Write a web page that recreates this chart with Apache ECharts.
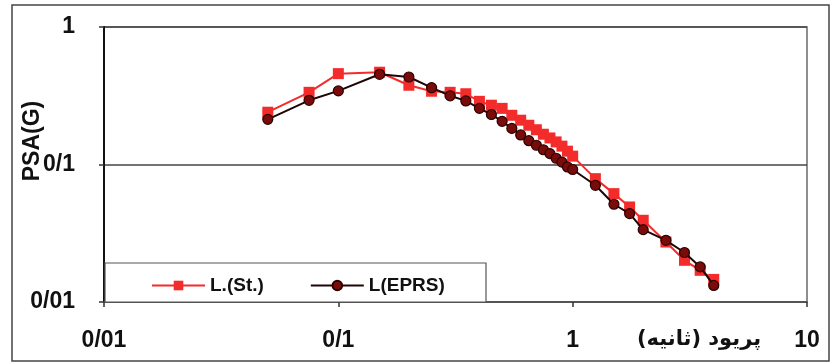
<!DOCTYPE html>
<html>
<head>
<meta charset="utf-8">
<script src="https://cdn.jsdelivr.net/npm/echarts@6/dist/echarts.min.js"></script>
<style>
html,body{margin:0;padding:0;background:#fff;}
#c{width:839px;height:364px;}
</style>
</head>
<body>
<div id="c"></div>
<script>
// Data (period in seconds, PSA in g)
const periods = [0.05, 0.075, 0.1, 0.15, 0.2, 0.25, 0.3, 0.35, 0.4, 0.45, 0.5, 0.55, 0.6, 0.65, 0.7, 0.75, 0.8, 0.85, 0.9, 0.95, 1.0, 1.25, 1.5, 1.75, 2.0, 2.5, 3.0, 3.5, 4.0];
const psaStandard = [0.240, 0.335, 0.458, 0.469, 0.377, 0.341, 0.335, 0.327, 0.288, 0.270, 0.256, 0.228, 0.210, 0.193, 0.179, 0.166, 0.156, 0.146, 0.136, 0.125, 0.115, 0.0789, 0.0614, 0.0491, 0.0393, 0.0273, 0.0201, 0.0170, 0.0146];
const psaEPRS = [0.213, 0.293, 0.343, 0.453, 0.433, 0.362, 0.316, 0.290, 0.256, 0.231, 0.206, 0.183, 0.164, 0.149, 0.138, 0.128, 0.120, 0.111, 0.104, 0.096, 0.092, 0.0706, 0.0514, 0.0440, 0.0336, 0.0281, 0.0229, 0.0180, 0.0132];
const seriesNames = ['L.(St.)', 'L(EPRS)'];
const xTickLabels = ['0/01', '0/1', '1', '10'];
const yTickLabels = ['0/01', '0/1', '1'];
const xAxisTitle = 'پریود (ثانیه)';
const yAxisTitle = 'PSA(G)';

const FONT = '"Liberation Sans", Arial, "DejaVu Sans", sans-serif';
const chart = echarts.init(document.getElementById('c'), null, {renderer: 'canvas'});

function logLabel(arr, min) {
  return function (v) {
    const i = Math.round(Math.log10(v) - Math.log10(min));
    return arr[i] !== undefined ? arr[i] : '';
  };
}

chart.setOption({
  animation: false,
  backgroundColor: '#fff',
  grid: {
    left: 104, right: 32, top: 27, bottom: 62,
    show: true, borderColor: '#6a6a6a', borderWidth: 1.5, backgroundColor: 'transparent'
  },
  xAxis: {
    type: 'log', logBase: 10, min: 0.01, max: 10,
    axisLine: {show: true, onZero: false, lineStyle: {color: '#555', width: 1.5}},
    axisTick: {show: true, length: 5, lineStyle: {color: '#333', width: 1.5}},
    minorTick: {show: false},
    splitLine: {show: false},
    axisLabel: {
      margin: 27, color: '#111', fontFamily: FONT, fontWeight: 'bold', fontSize: 23,
      formatter: logLabel(xTickLabels, 0.01)
    }
  },
  yAxis: {
    type: 'log', logBase: 10, min: 0.01, max: 1,
    axisLine: {show: true, onZero: false, lineStyle: {color: '#111', width: 2}},
    axisTick: {show: true, length: 5, lineStyle: {color: '#333', width: 1.5}},
    splitLine: {show: true, lineStyle: {color: '#444', width: 1.5}},
    axisLabel: {
      margin: 29, color: '#111', fontFamily: FONT, fontWeight: 'bold', fontSize: 23,
      formatter: logLabel(yTickLabels, 0.01)
    }
  },
  legend: {
    left: 151, top: 276, z: 10,
    itemWidth: 53, itemHeight: 12, itemGap: 46,
    padding: 0,
    textStyle: {fontFamily: FONT, fontWeight: 'bold', fontSize: 19, color: '#111'},
    data: seriesNames
  },
  graphic: [
    {type: 'rect', z: 8, silent: true, shape: {x: 105, y: 263, width: 381, height: 39},
     style: {fill: '#fff', stroke: '#555', lineWidth: 1.2}},
    {type: 'rect', z: 20, silent: true, shape: {x: 12, y: 5, width: 817, height: 356},
     style: {fill: 'none', stroke: '#444', lineWidth: 1.5}},
    {type: 'text', z: 20, x: 699, y: 340, silent: true,
     style: {text: xAxisTitle, fill: '#111', font: 'bold 21px "DejaVu Sans", sans-serif', align: 'center', verticalAlign: 'middle'}},
    {type: 'text', z: 20, x: 33, y: 141, rotation: Math.PI / 2, silent: true,
     style: {text: yAxisTitle, fill: '#111', font: 'bold 23px "Liberation Sans", Arial, sans-serif', align: 'center', verticalAlign: 'middle'}}
  ],
  series: [
    {
      name: seriesNames[0], type: 'line', z: 3,
      data: periods.map((p, i) => [p, psaStandard[i]]),
      symbol: 'rect', symbolSize: 11,
      lineStyle: {color: '#f42b2b', width: 2},
      itemStyle: {color: '#f42b2b', borderColor: '#f42b2b', borderWidth: 0}
    },
    {
      name: seriesNames[1], type: 'line', z: 4,
      data: periods.map((p, i) => [p, psaEPRS[i]]),
      symbol: 'circle', symbolSize: 10,
      lineStyle: {color: '#1f0505', width: 2},
      itemStyle: {color: '#7a0b0b', borderColor: '#2b0202', borderWidth: 1.2}
    }
  ]
});
</script>
</body>
</html>
